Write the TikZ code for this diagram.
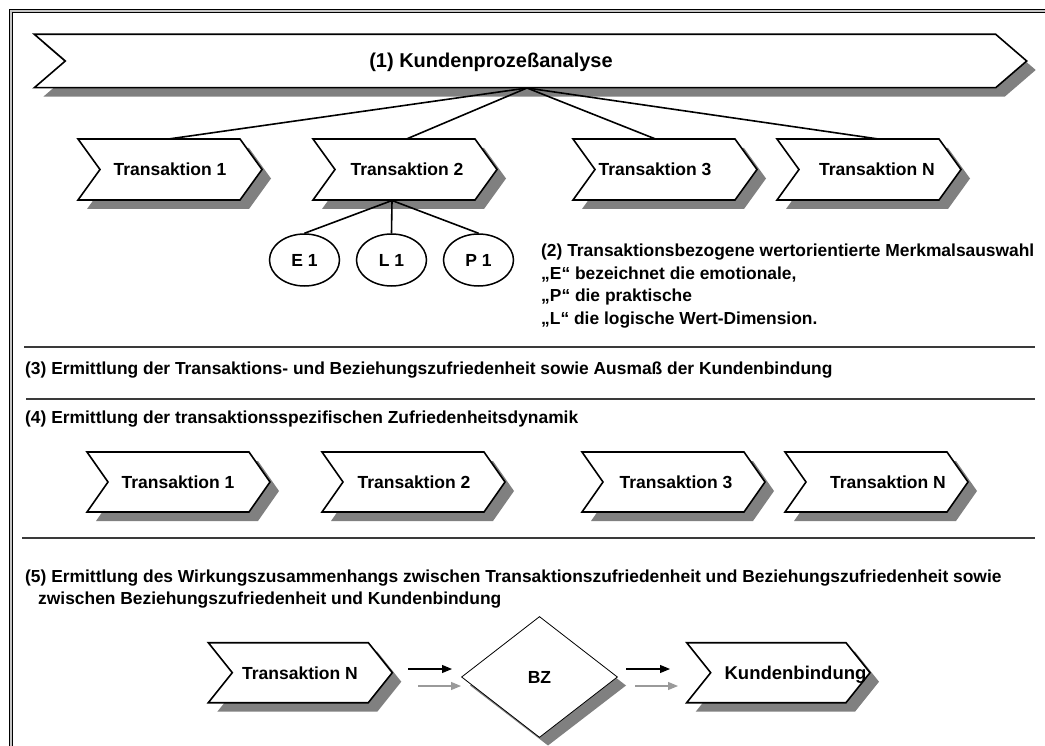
\documentclass[tikz,border=0pt]{standalone}
\usepackage{fontspec}
\setmainfont{Liberation Sans}
\usetikzlibrary{shapes.geometric,arrows.meta,calc}
\definecolor{shadowgray}{HTML}{808080}
\definecolor{arrowgray}{HTML}{9A9A9A}
\definecolor{rulegray}{HTML}{3A3A3A}

\tikzset{
  chevline/.style={draw=black,fill=white,line width=1.6pt,line join=miter},
  lbl/.style={font=\bfseries\fontsize{17.5}{21}\selectfont,inner sep=0pt,draw=none,text height=12.6pt,text depth=0pt},
  head/.style={font=\bfseries\fontsize{17.4}{22.6}\selectfont,inner sep=0pt,anchor=west,align=left},
  branch/.style={line width=1.6pt,black},
  oval/.style={ellipse,draw=black,line width=1.5pt,fill=white,minimum width=70pt,minimum height=52pt,inner sep=0pt,
    font=\bfseries\fontsize{17.5}{20}\selectfont,text height=12.6pt,text depth=0pt},
  sep/.style={rulegray,line width=1.1pt},
  flow/.style={line width=1.1pt,-{Triangle[length=10pt,width=8pt]}},
}

% #1 name, #2 left x, #3 top y, #4 tip x, #5 bottom y, #6 point depth, #7 text centre x, #8 text
\newcommand\chev[8]{%
  \fill[shadowgray,xshift=9pt,yshift=-9pt]
    (#2,#3) -- ({#4-#6},#3) -- (#4,{(#3+#5)/2}) -- ({#4-#6},#5) -- (#2,#5) -- ({#2+#6},{(#3+#5)/2}) -- cycle;
  \filldraw[chevline]
    (#2,#3) -- ({#4-#6},#3) -- (#4,{(#3+#5)/2}) -- ({#4-#6},#5) -- (#2,#5) -- ({#2+#6},{(#3+#5)/2}) -- cycle;
  \node[lbl,minimum height={#5-#3}] (#1) at (#7,{(#3+#5)/2}) {#8};
}

\begin{document}
\begin{tikzpicture}[x=1pt,y=-1pt]
  \useasboundingbox (0,0) rectangle (1045,746);
  \clip (0,0) rectangle (1045,746);
  \fill[white] (0,0) rectangle (1045,746);

  % double page frame
  \draw[gray!45,line width=3pt] (11,11) rectangle (1060,760);
  \draw[black,line width=1.1pt] (9.5,9.5) rectangle (1062,762);
  \draw[black,line width=1.1pt] (12.6,12.6) rectangle (1059,759);

  % (1) customer process analysis
  \chev{kpa}{34.3}{34.3}{1026.7}{87.7}{31}{491}{\fontsize{20}{24}\selectfont(1) Kundenprozeßanalyse}
  \coordinate (hub) at (527,88);

  % transactions, first row
  \chev{ta}{78}{139}{262}{200}{22}{170}{Transaktion 1}
  \chev{tb}{313}{139}{497}{200}{22}{407}{Transaktion 2}
  \chev{tc}{573}{139}{757}{200}{22}{655}{Transaktion 3}
  \chev{tn}{777}{139}{961}{200}{22}{877}{Transaktion N}

  \draw[branch] (hub) -- (ta.north);
  \draw[branch] (hub) -- (tb.north);
  \draw[branch] (hub) -- (tc.north);
  \draw[branch] (hub) -- (tn.north);

  % value dimensions of transaction 2
  \coordinate (tbhub) at (392,200.5);
  \node[oval] (e1) at (304.5,260) {E 1};
  \node[oval] (l1) at (391.5,260) {L 1};
  \node[oval] (p1) at (478.5,260) {P 1};
  \draw[branch] (tbhub) -- (e1.north);
  \draw[branch] (tbhub) -- (l1.north);
  \draw[branch] (tbhub) -- (p1.north);

  \node[head] (h2) at (541,286) {(2) Transaktionsbezogene wertorientierte Merkmalsauswahl\\
    „E“ bezeichnet die emotionale,\\
    „P“ die praktische\\
    „L“ die logische Wert-Dimension.};

  % separators and steps (3), (4)
  \draw[sep] (24,347) -- (1035,347);
  \node[head] (h3) at (25,370) {(3) Ermittlung der Transaktions- und Beziehungszufriedenheit sowie Ausmaß der Kundenbindung};
  \draw[sep] (26,399) -- (1035,399);
  \node[head] (h4) at (25,419) {(4) Ermittlung der transaktionsspezifischen Zufriedenheitsdynamik};

  % transactions, second row
  \chev{sa}{87}{452}{270}{512}{21}{178}{Transaktion 1}
  \chev{sb}{322}{452}{505}{512}{21}{414}{Transaktion 2}
  \chev{sc}{582}{452}{765}{512}{21}{676}{Transaktion 3}
  \chev{sn}{785}{452}{968}{512}{21}{888}{Transaktion N}

  \draw[sep] (22,538) -- (1035,538);

  % (5) chain of effects
  \node[head,font=\bfseries\fontsize{17.4}{21.5}\selectfont] (h5) at (25,589)
    {(5) Ermittlung des Wirkungszusammenhangs zwischen Transaktionszufriedenheit und Beziehungszufriedenheit sowie\\
     \hspace*{13pt}zwischen Beziehungszufriedenheit und Kundenbindung};

  \chev{fn}{208.3}{642.7}{392.3}{702.7}{24}{300}{Transaktion N}

  \fill[shadowgray] (548,625.5) -- (626,685.5) -- (548,745.5) -- (470,685.5) -- cycle;
  \node[diamond,draw=black,line width=0.8pt,fill=white,minimum width=156pt,minimum height=121pt,inner sep=0pt,
        font=\bfseries\fontsize{17.5}{20}\selectfont,text height=12.6pt,text depth=0pt] (bz) at (539.5,677) {BZ};

  \chev{kb}{686.7}{642.7}{870}{702.7}{24}{795.5}{\fontsize{18.5}{22}\selectfont Kundenbindung}

  \coordinate (a1s) at (408,669);  \coordinate (a1e) at (452,669);
  \coordinate (a2s) at (418,686);  \coordinate (a2e) at (461,686);
  \coordinate (a3s) at (626,669);  \coordinate (a3e) at (670,669);
  \coordinate (a4s) at (635,686);  \coordinate (a4e) at (678,686);
  \draw[flow,black] (a1s) -- (a1e);
  \draw[flow,arrowgray] (a2s) -- (a2e);
  \draw[flow,black] (a3s) -- (a3e);
  \draw[flow,arrowgray] (a4s) -- (a4e);
\end{tikzpicture}
\end{document}
